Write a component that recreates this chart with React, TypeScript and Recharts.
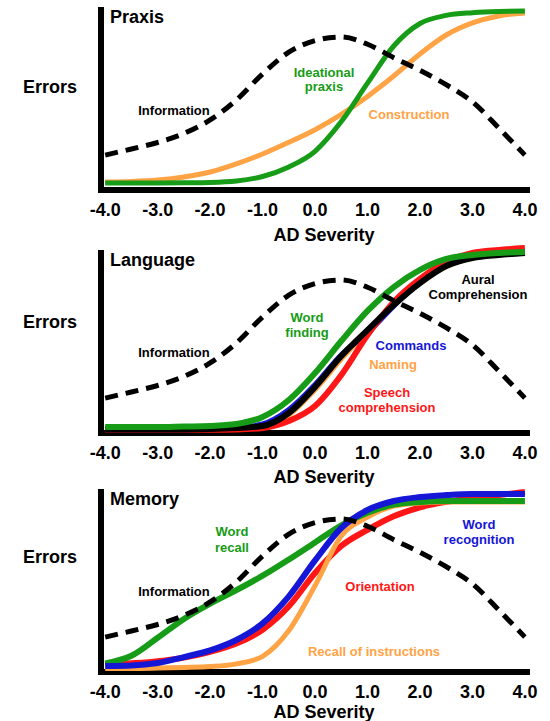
import { LineChart, Line, XAxis, YAxis, ReferenceLine } from "recharts";

// AD severity sample points (x axis)
const SEVERITY = [-4, -3.5, -3, -2.5, -2, -1.5, -1, -0.5, 0, 0.5, 1, 1.5, 2, 2.5, 3, 3.5, 4];
const TICKS = [-4, -3, -2, -1, 0, 1, 2, 3, 4];

// same dashed curve in every panel
const information = [0.194, 0.228, 0.264, 0.314, 0.389, 0.5, 0.645, 0.766, 0.83, 0.85, 0.81, 0.735, 0.665, 0.585, 0.49, 0.345, 0.194];

// Praxis
const ideationalPraxis = [0.039, 0.039, 0.039, 0.04, 0.042, 0.05, 0.075, 0.128, 0.215, 0.38, 0.594, 0.8, 0.925, 0.97, 0.985, 0.992, 0.994];
const construction = [0.044, 0.047, 0.055, 0.072, 0.1, 0.145, 0.2, 0.265, 0.335, 0.42, 0.52, 0.633, 0.756, 0.861, 0.928, 0.967, 0.983];

// Language
const naming = [0.02, 0.02, 0.02, 0.02, 0.022, 0.026, 0.035, 0.1, 0.24, 0.41, 0.565, 0.715, 0.835, 0.925, 0.972, 0.99, 1.0];
const commands = [0.022, 0.022, 0.022, 0.022, 0.024, 0.03, 0.05, 0.13, 0.27, 0.435, 0.555, 0.705, 0.84, 0.94, 0.98, 0.995, 1.0];
const speechComprehension = [0.018, 0.018, 0.018, 0.018, 0.018, 0.02, 0.028, 0.067, 0.15, 0.322, 0.544, 0.728, 0.856, 0.95, 1.0, 1.017, 1.028];
const auralComprehension = [0.02, 0.02, 0.02, 0.02, 0.022, 0.028, 0.039, 0.111, 0.256, 0.428, 0.572, 0.711, 0.833, 0.928, 0.972, 0.989, 1.0];
const wordFinding = [0.033, 0.033, 0.033, 0.036, 0.039, 0.05, 0.089, 0.183, 0.333, 0.511, 0.678, 0.811, 0.906, 0.967, 0.989, 1.0, 1.006];

// Memory
const recallOfInstructions = [0.02, 0.02, 0.022, 0.025, 0.03, 0.045, 0.087, 0.23, 0.48, 0.755, 0.86, 0.922, 0.939, 0.944, 0.944, 0.944, 0.944];
const orientation = [0.039, 0.048, 0.06, 0.08, 0.112, 0.158, 0.235, 0.365, 0.55, 0.7, 0.79, 0.865, 0.915, 0.945, 0.967, 0.983, 1.0];
const wordRecall = [0.048, 0.09, 0.19, 0.295, 0.38, 0.455, 0.535, 0.625, 0.72, 0.815, 0.885, 0.93, 0.945, 0.95, 0.95, 0.95, 0.95];
const wordRecognition = [0.033, 0.036, 0.05, 0.083, 0.12, 0.178, 0.27, 0.42, 0.62, 0.8, 0.9, 0.95, 0.972, 0.983, 0.989, 0.989, 0.989];

const GREEN = "#169c16";
const ORANGE = "#ffa345";
const BLUE = "#1616d6";
const RED = "#ff1616";
const BLACK = "#000";

const FONT = "'Liberation Sans', Arial, Helvetica, sans-serif";
const X_MIN = -4.08;
const X_MAX = 4.04;
const Y_MAX = 190 / 180;

type Series = { key: string; values: number[]; color: string; width: number; dash?: string };
type Note = { lines: string[]; x: number; y: number[]; color: string };

function SeverityTick(props: any) {
  const { x, y, payload } = props;
  return (
    <text x={x} y={y + 26} textAnchor="middle" fontSize={18} fontWeight="bold" fontFamily={FONT} fill="#000">
      {Number(payload.value).toFixed(1)}
    </text>
  );
}

function Panel({
  top,
  title,
  series,
  notes,
  errorsY,
  severityY,
}: {
  top: number;
  title: string;
  series: Series[];
  notes: Note[];
  errorsY: number;
  severityY: number;
}) {
  const data = SEVERITY.map((s, i) => {
    const row: Record<string, number> = { s };
    series.forEach((ser) => (row[ser.key] = ser.values[i]));
    return row;
  });

  return (
    <div style={{ position: "absolute", left: 0, top, width: 550, height: 243 }}>
      <LineChart width={550} height={243} data={data} margin={{ top: 0, right: 23, bottom: 23, left: 101 }}>
        <XAxis
          dataKey="s"
          type="number"
          domain={[X_MIN, X_MAX]}
          ticks={TICKS}
          interval={0}
          height={30}
          axisLine={false}
          tickLine={false}
          tickSize={0}
          tickMargin={0}
          tick={SeverityTick}
        />
        <YAxis hide type="number" domain={[0, Y_MAX]} />
        <ReferenceLine y={0} stroke="#000" strokeWidth={6} strokeLinecap="square" />
        <ReferenceLine
          segment={[
            { x: X_MIN, y: 0 },
            { x: X_MIN, y: 1 },
          ]}
          stroke="#000"
          strokeWidth={6}
          strokeLinecap="square"
        />
        {series.map((ser) => (
          <Line
            key={ser.key}
            dataKey={ser.key}
            type="monotone"
            stroke={ser.color}
            strokeWidth={ser.width}
            strokeDasharray={ser.dash}
            dot={false}
            activeDot={false}
            isAnimationActive={false}
          />
        ))}
      </LineChart>
      <svg
        width={550}
        height={250}
        style={{ position: "absolute", left: 0, top: 0, overflow: "visible", pointerEvents: "none" }}
        fontFamily={FONT}
        fontWeight="bold"
      >
        <text x={110} y={23} fontSize={18} fill="#000">
          {title}
        </text>
        <text x={23} y={errorsY} fontSize={18} fill="#000">
          Errors
        </text>
        <text x={324} y={severityY} fontSize={18} fill="#000" textAnchor="middle">
          AD Severity
        </text>
        {notes.map((n) =>
          n.lines.map((line, i) => (
            <text key={n.lines.join() + i} x={n.x} y={n.y[i]} fontSize={13} fill={n.color} textAnchor="middle">
              {line}
            </text>
          ))
        )}
      </svg>
    </div>
  );
}

const infoSeries: Series = { key: "information", values: information, color: BLACK, width: 5, dash: "13 8" };

export default function App() {
  return (
    <div style={{ position: "absolute", left: 0, top: 0, width: 550, height: 721, overflow: "hidden", background: "#fff" }}>
      <Panel
        top={0}
        title="Praxis"
        errorsY={93}
        severityY={241}
        series={[
          { key: "construction", values: construction, color: ORANGE, width: 5 },
          { key: "ideational", values: ideationalPraxis, color: GREEN, width: 5 },
          infoSeries,
        ]}
        notes={[
          { lines: ["Information"], x: 174, y: [115], color: BLACK },
          { lines: ["Ideational", "praxis"], x: 324, y: [77, 91], color: GREEN },
          { lines: ["Construction"], x: 409, y: [119], color: ORANGE },
        ]}
      />
      <Panel
        top={243}
        title="Language"
        errorsY={85}
        severityY={240}
        series={[
          { key: "naming", values: naming, color: ORANGE, width: 5 },
          { key: "commands", values: commands, color: BLUE, width: 5 },
          { key: "speech", values: speechComprehension, color: RED, width: 6 },
          { key: "aural", values: auralComprehension, color: BLACK, width: 6 },
          { key: "wordFinding", values: wordFinding, color: GREEN, width: 6 },
          infoSeries,
        ]}
        notes={[
          { lines: ["Information"], x: 174, y: [114], color: BLACK },
          { lines: ["Aural", "Comprehension"], x: 478, y: [41, 56], color: BLACK },
          { lines: ["Word", "finding"], x: 307, y: [79, 94], color: GREEN },
          { lines: ["Commands"], x: 411, y: [107], color: BLUE },
          { lines: ["Naming"], x: 393, y: [126], color: ORANGE },
          { lines: ["Speech", "comprehension"], x: 387, y: [154, 169], color: RED },
        ]}
      />
      <Panel
        top={482}
        title="Memory"
        errorsY={81}
        severityY={236}
        series={[
          { key: "orientation", values: orientation, color: RED, width: 6 },
          { key: "recallInstr", values: recallOfInstructions, color: ORANGE, width: 5 },
          { key: "wordRecall", values: wordRecall, color: GREEN, width: 6 },
          { key: "wordRecognition", values: wordRecognition, color: BLUE, width: 6 },
          infoSeries,
        ]}
        notes={[
          { lines: ["Word", "recall"], x: 232, y: [54, 70], color: GREEN },
          { lines: ["Information"], x: 174, y: [114], color: BLACK },
          { lines: ["Word", "recognition"], x: 479, y: [47, 62], color: BLUE },
          { lines: ["Orientation"], x: 380, y: [109], color: RED },
          { lines: ["Recall of instructions"], x: 374, y: [174], color: ORANGE },
        ]}
      />
    </div>
  );
}
